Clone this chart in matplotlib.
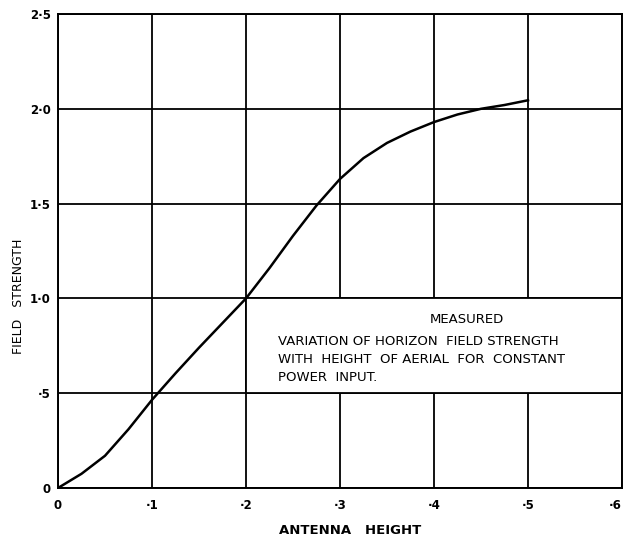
import matplotlib
matplotlib.use("Agg")
import matplotlib.pyplot as plt
from matplotlib.patches import Rectangle

# measured curve (antenna height vs field strength)
height = [0, 0.025, 0.05, 0.075, 0.1, 0.125, 0.15, 0.175, 0.2, 0.225, 0.25,
          0.275, 0.3, 0.325, 0.35, 0.375, 0.4, 0.425, 0.45, 0.475, 0.5]
field = [0, 0.075, 0.17, 0.31, 0.465, 0.605, 0.74, 0.87, 1.0, 1.16, 1.33,
         1.49, 1.63, 1.74, 1.82, 1.88, 1.93, 1.97, 2.0, 2.02, 2.045]

x_ticks = [0, 0.1, 0.2, 0.3, 0.4, 0.5, 0.6]
x_labels = ["0", "·1", "·2", "·3", "·4", "·5", "·6"]
y_ticks = [0, 0.5, 1.0, 1.5, 2.0, 2.5]
y_labels = ["0", "·5", "1·0", "1·5", "2·0", "2·5"]

note_title = "MEASURED"
note_lines = ["VARIATION OF HORIZON  FIELD STRENGTH",
              "WITH  HEIGHT  OF AERIAL  FOR  CONSTANT",
              "POWER  INPUT."]

fig = plt.figure(figsize=(6.26, 5.37), dpi=100)
ax = fig.add_axes([58 / 626, 49 / 537, 564 / 626, 474 / 537])

ax.set_xlim(0, 0.6)
ax.set_ylim(0, 2.5)
ax.set_xticks(x_ticks)
ax.set_xticklabels(x_labels)
ax.set_yticks(y_ticks)
ax.set_yticklabels(y_labels)
ax.tick_params(length=0, labelsize=8.5)
ax.tick_params(axis="x", pad=8)
ax.tick_params(axis="y", pad=5)
for lab in ax.get_xticklabels() + ax.get_yticklabels():
    lab.set_fontweight("bold")
# last x label sits at the figure edge
ax.get_xticklabels()[-1].set_horizontalalignment("right")

ax.grid(True, color="black", linewidth=1.3)
for s in ax.spines.values():
    s.set_linewidth(1.4)

# white note box covering the grid
ax.add_patch(Rectangle((0.2, 0.5), 0.4, 0.5, facecolor="white",
                       edgecolor="black", linewidth=1.3, zorder=2))

ax.plot(height, field, color="black", linewidth=1.8, zorder=3)

ax.text(0.435, 0.89, note_title, ha="center", va="center", fontsize=9.5, zorder=4)
for i, line in enumerate(note_lines):
    ax.text(0.234, 0.775 - i * 0.097, line, ha="left", va="center",
            fontsize=9.5, zorder=4)

fig.text(350 / 626, 1 - 530 / 537, "ANTENNA   HEIGHT", ha="center", va="center",
         fontsize=9.5, fontweight="bold")
fig.text(19 / 626, 1 - 296 / 537, "FIELD   STRENGTH", ha="center", va="center",
         rotation=90, fontsize=9)

fig.savefig("out.png", dpi=100)
